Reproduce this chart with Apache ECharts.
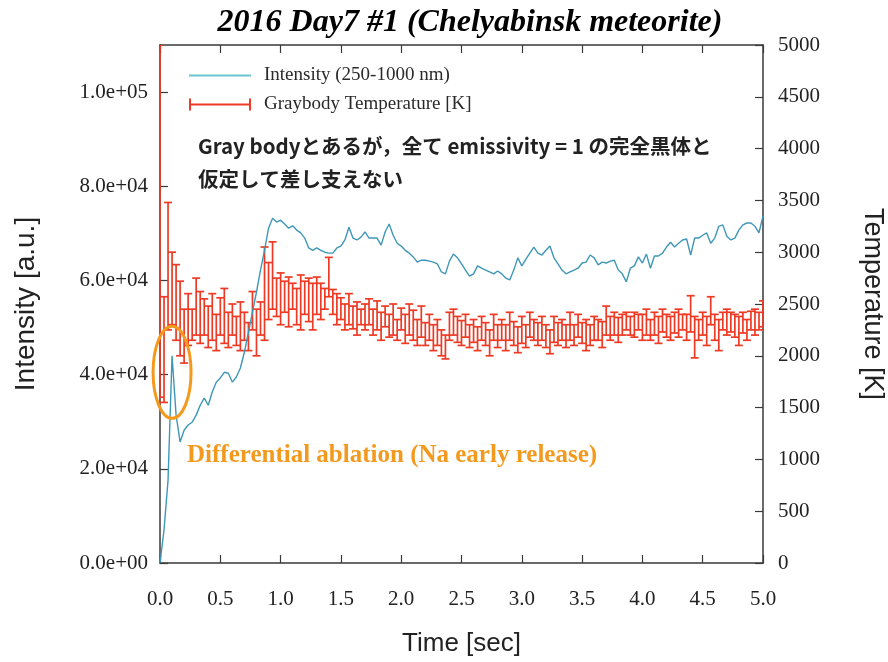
<!DOCTYPE html>
<html>
<head>
<meta charset="utf-8">
<script src="https://cdn.jsdelivr.net/npm/echarts@6/dist/echarts.min.js"></script>
<style>
  html, body { margin: 0; padding: 0; background: #fff; }
  #chart { width: 888px; height: 662px; }
</style>
</head>
<body>
<div id="chart"></div>
<script>
// Camera frame rate: one sample per frame
const FPS = 30;

// Integrated intensity (250-1000 nm), arbitrary units, one value per frame
const intensity = [
  0, 7000, 17600, 44000, 31400, 25700, 28200, 29300, 29900, 31400,
  33500, 35000, 33500, 36300, 38400, 39300, 40500, 40300, 38400, 39500,
  41400, 44800, 49000, 53300, 57500, 62200, 66400, 71100, 73200, 72400,
  72800, 72000, 71100, 71600, 70700, 70100, 69000, 66900, 66400, 66900,
  66400, 66000, 65800, 65800, 66900, 67300, 68600, 71300, 69000, 68600,
  69200, 70300, 69000, 69000, 69000, 67500, 70300, 72000, 69600, 67900,
  67300, 66400, 65800, 65000, 63900, 64300, 64300, 64100, 63900, 63500,
  61800, 61400, 64100, 65600, 64800, 63500, 62200, 60900, 61400, 63100,
  62600, 62200, 61800, 61400, 62000, 61400, 60500, 60100, 62200, 64800,
  63100, 64500, 65800, 67100, 65800, 65400, 66400, 67300, 64800, 63500,
  62200, 61400, 61800, 62200, 62600, 63700, 63900, 65400, 64800, 63300,
  63900, 63700, 64100, 64300, 62200, 61400, 59700, 62600, 63100, 65000,
  63700, 65600, 62600, 65200, 65200, 65800, 67100, 68100, 67100, 67900,
  68600, 68800, 65400, 69000, 69000, 69600, 70100, 67900, 69000, 71500,
  71800, 69400, 68600, 69000, 70700, 71800, 72200, 72200, 71500, 70100,
  73700
];

// Graybody temperature [K]: lower and upper ends of each error bar
const tempLow = [
  1600, 1550, 2250, 2300, 2150, 2000, 1930, 2100, 2150, 2200,
  2120, 2200, 2080, 2150, 2050, 2200, 2120, 2080, 2200, 2100,
  2050, 2150, 2050, 2250, 2000, 2200, 2150, 2350, 2450, 2380,
  2300, 2420, 2280, 2450, 2300, 2250, 2400, 2330, 2250, 2400,
  2350, 2450, 2570, 2400, 2300, 2350, 2250, 2300, 2260, 2200,
  2300, 2250, 2300, 2200, 2250, 2150, 2280, 2180, 2200, 2150,
  2250, 2120, 2200, 2150, 2100, 2180, 2100, 2150, 2050, 2100,
  2000, 1970, 2150, 2200, 2130, 2100, 2180, 2080, 2130, 2050,
  2150, 2100, 2000, 2150, 2080, 2150, 2050, 2150, 2100, 2030,
  2120, 2080, 2180, 2150, 2100, 2150, 2080, 2020, 2130, 2100,
  2150, 2080, 2150, 2100, 2180, 2120, 2050, 2100, 2150, 2150,
  2080, 2200, 2150, 2200, 2130, 2200, 2250, 2200, 2180, 2250,
  2150, 2200, 2150, 2200, 2120, 2230, 2180, 2150, 2220, 2180,
  2250, 2150, 2230, 1980, 2150, 2200, 2100, 2300, 2150, 2050,
  2250, 2200, 2230, 2180, 2100, 2220, 2150, 2250, 2200, 2250,
  2280
];
const tempHigh = [
  5000, 2570, 3480, 3000, 2880, 2720, 2450, 2600, 2450, 2750,
  2620, 2550, 2480, 2600, 2400, 2560, 2650, 2420, 2500, 2380,
  2520, 2420, 2320, 2620, 2450, 2520, 3050, 2900, 3100, 2750,
  2800, 2720, 2760, 2700, 2650, 2780, 2720, 2750, 2700, 2760,
  2700, 2650, 2950, 2640, 2600, 2560, 2500, 2600, 2480, 2520,
  2450, 2500, 2550, 2450, 2530, 2420, 2480, 2400, 2500, 2350,
  2460, 2400, 2500, 2440, 2350, 2480, 2320, 2400, 2300, 2350,
  2250, 2200, 2420, 2450, 2380, 2340, 2400, 2300, 2350, 2280,
  2380, 2320, 2250, 2400, 2300, 2350, 2300, 2420, 2330, 2280,
  2380, 2300, 2420, 2350, 2320, 2380, 2300, 2250, 2380, 2320,
  2350, 2300, 2420, 2300, 2400, 2320, 2350, 2300, 2380, 2350,
  2330, 2480, 2380, 2420, 2370, 2400, 2420, 2380, 2420, 2400,
  2400, 2450, 2350, 2420, 2380, 2450, 2400, 2380, 2420, 2450,
  2400, 2400, 2580, 2380, 2350, 2420, 2380, 2570, 2400, 2350,
  2420, 2450, 2420, 2400, 2380, 2420, 2350, 2430, 2450, 2420,
  2530
];

const SERIES_INTENSITY = 'Intensity (250-1000 nm)';
const SERIES_TEMP = 'Graybody Temperature [K]';
const TITLE = '2016 Day7 #1 (Chelyabinsk meteorite)';
const NOTE_LINES = ['Gray bodyとあるが，全て emissivity = 1 の完全黒体と', '仮定して差し支えない'];
const ABLATION_NOTE = 'Differential ablation (Na early release)';

const BLUE = '#3e97b6';
const RED = '#ee3a24';
const ORANGE = '#f39a1e';
const AXIS = '#3a3a3a';
const SERIF = '"Liberation Serif", "DejaVu Serif", serif';
const SANS = '"Liberation Sans", Arial, sans-serif';
const CJK = '"Noto Sans CJK JP", "Noto Sans", sans-serif';

const frameTime = i => i / FPS;
const intensityData = intensity.map((v, i) => [frameTime(i), v]);
const tempData = tempLow.map((lo, i) => [frameTime(i), lo, tempHigh[i]]);

function sciLabel(v) {
  const parts = Number(v).toExponential(1).split('e');
  const n = parseInt(parts[1], 10);
  return parts[0] + 'e' + (n < 0 ? '-' : '+') + String(Math.abs(n)).padStart(2, '0');
}

const chart = echarts.init(document.getElementById('chart'), null, { renderer: 'canvas' });

const tickStyle = { show: true, inside: true, length: 8, lineStyle: { color: AXIS, width: 1.2 } };
const lineStyle = { show: true, onZero: false, lineStyle: { color: AXIS, width: 1.5 } };

chart.setOption({
  animation: false,
  backgroundColor: '#fff',
  title: {
    text: TITLE,
    left: 465, top: 2, textAlign: 'center',
    textStyle: { fontFamily: SERIF, fontStyle: 'italic', fontWeight: 'bold', fontSize: 32, color: '#000' }
  },
  grid: { left: 160, right: 125, top: 45, bottom: 99, outerBoundsMode: 'none' },
  legend: {
    orient: 'vertical',
    left: 184, top: 61,
    itemWidth: 62, itemHeight: 12, itemGap: 10,
    textStyle: { fontFamily: SERIF, fontSize: 19, color: '#2a2a2a', padding: [0, 0, 0, 8] },
    data: [
      { name: SERIES_INTENSITY, icon: 'path://M0,5H62V7H0Z', itemStyle: { color: '#6cc4d2' } },
      { name: SERIES_TEMP, icon: 'path://M0,0H2V12H0Z M0,5H62V7H0Z M60,0H62V12H60Z', itemStyle: { color: RED } }
    ]
  },
  xAxis: [
    {
      type: 'value', min: 0, max: 5, interval: 0.5, position: 'bottom',
      name: 'Time [sec]', nameLocation: 'middle', nameGap: 68,
      nameTextStyle: { fontFamily: SANS, fontSize: 26, color: '#222' },
      axisLine: lineStyle, axisTick: tickStyle, splitLine: { show: false },
      axisLabel: { margin: 26, fontFamily: SERIF, fontSize: 21, color: '#222', formatter: v => v.toFixed(1) }
    },
    {
      type: 'value', min: 0, max: 5, interval: 0.5, position: 'top',
      axisLine: lineStyle, axisTick: tickStyle, splitLine: { show: false },
      axisLabel: { show: false }
    }
  ],
  yAxis: [
    {
      type: 'value', min: 0, max: 110000, interval: 20000, position: 'left',
      name: 'Intensity [a.u.]', nameLocation: 'middle', nameGap: 120,
      nameTextStyle: { fontFamily: SANS, fontSize: 28, color: '#222' },
      axisLine: lineStyle, axisTick: tickStyle, splitLine: { show: false },
      axisLabel: { margin: 12, showMaxLabel: false, fontFamily: SERIF, fontSize: 21, color: '#222', formatter: sciLabel }
    },
    {
      type: 'value', min: 0, max: 5000, interval: 500, position: 'right',
      name: 'Temperature [K]', nameLocation: 'middle', nameGap: 96, nameRotate: -90,
      nameTextStyle: { fontFamily: SANS, fontSize: 27, color: '#222' },
      axisLine: lineStyle, axisTick: tickStyle, splitLine: { show: false },
      axisLabel: { margin: 15, fontFamily: SERIF, fontSize: 21, color: '#222', formatter: v => String(v) }
    }
  ],
  series: [
    {
      name: SERIES_TEMP,
      type: 'custom',
      yAxisIndex: 1,
      clip: true,
      itemStyle: { color: RED },
      encode: { x: 0, y: [1, 2] },
      data: tempData,
      renderItem(params, api) {
        const t = api.value(0);
        const lo = api.coord([t, api.value(1)]);
        const hi = api.coord([t, api.value(2)]);
        const cap = 4;
        const st = { stroke: RED, lineWidth: 1.7 };
        return {
          type: 'group',
          children: [
            { type: 'line', shape: { x1: lo[0], y1: lo[1], x2: hi[0], y2: hi[1] }, style: st },
            { type: 'line', shape: { x1: lo[0] - cap, y1: lo[1], x2: lo[0] + cap, y2: lo[1] }, style: st },
            { type: 'line', shape: { x1: hi[0] - cap, y1: hi[1], x2: hi[0] + cap, y2: hi[1] }, style: st }
          ]
        };
      },
      z: 2
    },
    {
      name: SERIES_INTENSITY,
      type: 'line',
      yAxisIndex: 0,
      data: intensityData,
      showSymbol: false,
      symbol: 'none',
      lineStyle: { color: BLUE, width: 1.4 },
      itemStyle: { color: BLUE },
      z: 3
    }
  ],
  graphic: [
    {
      id: 'note1', type: 'text', left: 198, top: 136,
      style: { text: NOTE_LINES[0], fontFamily: CJK, fontWeight: 'bold', fontSize: 20.5, fill: '#222' }
    },
    {
      id: 'note2', type: 'text', left: 198, top: 169,
      style: { text: NOTE_LINES[1], fontFamily: CJK, fontWeight: 'bold', fontSize: 20.5, fill: '#222' }
    },
    {
      id: 'ablation', type: 'text', left: 187, top: 443,
      style: { text: ABLATION_NOTE, fontFamily: SERIF, fontWeight: 'bold', fontSize: 25, fill: ORANGE }
    }
  ]
});

// Orange ring around the early sodium spike, placed in data coordinates
const ringCenter = chart.convertToPixel({ xAxisIndex: 0, yAxisIndex: 0 }, [0.1, 40500]);
chart.setOption({
  graphic: [
    {
      id: 'ring', type: 'ellipse',
      shape: { cx: ringCenter[0], cy: ringCenter[1], rx: 19, ry: 46 },
      style: { fill: 'none', stroke: ORANGE, lineWidth: 3 },
      z: 10
    }
  ]
});
</script>
</body>
</html>
